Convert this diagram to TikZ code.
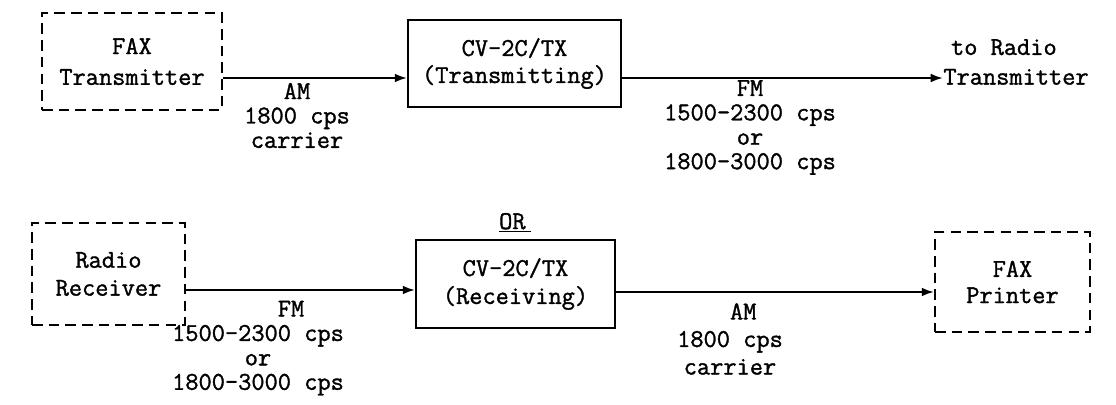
\documentclass[tikz,border=0pt]{standalone}
\usepackage{fontspec}
\newfontfamily\typw[FakeBold=1.3]{Latin Modern Mono}
\usetikzlibrary{arrows.meta}
\begin{document}
\begin{tikzpicture}[x=0.02cm,y=-0.02cm,
  txt/.style={font=\typw\fontsize{14.6}{13.9}\selectfont, align=center, inner sep=0pt},
  dbox/.style={txt, draw, line width=1.1pt, dash pattern=on 6pt off 3.5pt},
  sbox/.style={txt, draw, line width=1.1pt},
  arr/.style={line width=1.2pt, -{Latex[length=7pt,width=5pt]}}]
\useasboundingbox (0,0) rectangle (1116,405);
% rows
\coordinate (ya) at (0,78);
\coordinate (yb) at (0,290);
\coordinate (yc) at (0,292);
% top row
\node[dbox, minimum width=3.6cm, minimum height=1.94cm] (ftx) at (132,61.5) {FAX\\[3.6pt]Transmitter};
\node[sbox, minimum width=4.26cm, minimum height=1.74cm] (cv1) at (514.5,63.5) {CV-2C/TX\\[1.5pt](Transmitting)};
\node[txt, align=left, anchor=west] (torad) at (943,62) {\hspace*{0.3em}to Radio\\[3pt]Transmitter};
\node[txt] (lab1) at (297,115.5) {AM\\1800 cps\\carrier};
\node[txt] (lab2) at (750,127.5) {FM\\1500-2300 cps\\or\\1800-3000 cps};
\draw[arr] (ftx.east |- ya) -- (cv1.west |- ya);
\draw[arr] (cv1.east |- ya) -- (torad.west |- ya);
% bottom row
\node[dbox, minimum width=3.06cm, minimum height=2.04cm] (rr) at (108.5,274) {Radio\\[2pt]Receiver};
\node[sbox, minimum width=3.98cm, minimum height=1.76cm] (cv2) at (515.5,284) {CV-2C/TX\\[2pt](Receiving)};
\node[dbox, minimum width=3.1cm, minimum height=2.0cm] (fp) at (1012.5,282) {FAX\\[1pt]Printer};
\node[txt] (orlab) at (515,223) {\underline{OR\kern3pt}};
\node[txt] (lab3) at (258,348) {\phantom{00000}FM\\1500-2300 cps\\or\\1800-3000 cps};
\node[txt] (lab4) at (730,339) {\phantom{00}AM\\[1.8pt]1800 cps\\[1.8pt]carrier};
\draw[arr] (rr.east |- yb) -- (cv2.west |- yb);
\draw[arr] (cv2.east |- yc) -- (fp.west |- yc);
\end{tikzpicture}
\end{document}
